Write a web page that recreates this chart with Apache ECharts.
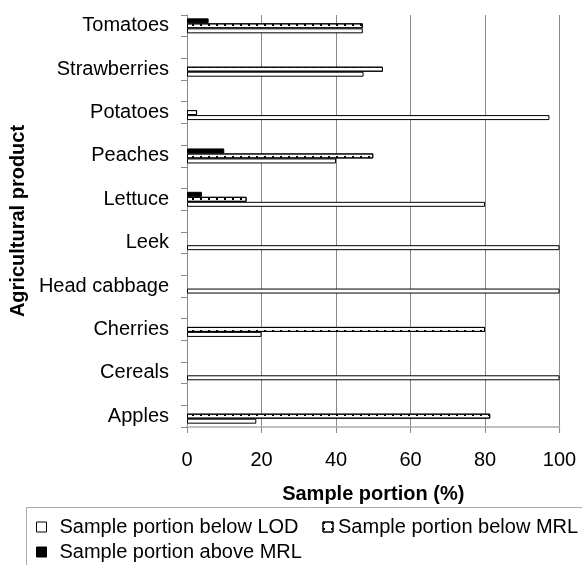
<!DOCTYPE html>
<html>
<head>
<meta charset="utf-8">
<title>Sample portion by agricultural product</title>
<script src="https://cdn.jsdelivr.net/npm/echarts@6.0.0/dist/echarts.min.js"></script>
<style>
  html, body { margin: 0; padding: 0; background: #fff; }
  #chart { width: 582px; height: 565px; }
</style>
</head>
<body>
<div id="chart"></div>
<script>
// categories from bottom to top, as on the axis
const categories = ['Apples', 'Cereals', 'Cherries', 'Head cabbage', 'Leek', 'Lettuce', 'Peaches', 'Potatoes', 'Strawberries', 'Tomatoes'];
// values in % (null = no bar)
const belowLOD = [18.6, 100, 20, 100, 100, 80, 40, 97.3, 47.4, 47.2];
const belowMRL = [81.4, null, 80, null, null, 16, 50, 2.7, 52.6, 47.2];
const aboveMRL = [null, null, null, null, null, 4, 10, null, null, 5.8];
const xTicks = [0, 20, 40, 60, 80, 100];

const seriesNames = ['Sample portion below LOD', 'Sample portion below MRL', 'Sample portion above MRL'];
const fontName = 'Liberation Sans, Arial, sans-serif';

// the original axis has an empty slot between every two products
function spread(list, blank) {
  let out = [];
  for (let i = 0; i < list.length; i++) {
    if (i > 0) out.push(blank);
    out.push(list[i]);
  }
  return out;
}

const chart = echarts.init(document.getElementById('chart'), null, { renderer: 'canvas' });

function barSeries(name, values, style) {
  return {
    name: name,
    type: 'bar',
    data: spread(values, null),
    barWidth: 5,
    barGap: '0%',
    itemStyle: style,
    emphasis: { disabled: true }
  };
}

const dots = {
  symbol: 'rect',
  symbolSize: 1,
  color: '#000',
  dashArrayX: [1.5, 6],
  dashArrayY: [1.5, 3.5]
};

// legend text, with the wider gap after the first square like the original
function legendText(pad) {
  return { fontFamily: fontName, fontSize: 20, color: '#000', padding: [0, 0, 0, pad] };
}

const option = {
  animation: false,
  backgroundColor: '#fff',
  textStyle: { fontFamily: fontName, color: '#000' },
  grid: { left: 186, right: 22.5, top: 15, bottom: 138 },
  xAxis: {
    type: 'value',
    min: xTicks[0],
    max: xTicks[xTicks.length - 1],
    interval: xTicks[1] - xTicks[0],
    name: 'Sample portion (%)',
    nameLocation: 'middle',
    nameGap: 57,
    nameTextStyle: { fontFamily: fontName, fontSize: 20, fontWeight: 'bold', color: '#000' },
    axisLine: { show: true, lineStyle: { color: '#c0c0c0', width: 2 } },
    axisTick: { show: true, length: 6, lineStyle: { color: '#888' } },
    axisLabel: { fontFamily: fontName, fontSize: 20, color: '#000', margin: 23 },
    splitLine: { show: true, lineStyle: { color: '#888', width: 1 } }
  },
  yAxis: {
    type: 'category',
    data: spread(categories, ''),
    name: 'Agricultural product',
    nameLocation: 'middle',
    nameGap: 150,
    nameRotate: 90,
    nameTextStyle: { fontFamily: fontName, fontSize: 20, fontWeight: 'bold', color: '#000' },
    axisLine: { show: true, lineStyle: { color: '#888' } },
    axisTick: { show: true, length: 6, alignWithLabel: false, lineStyle: { color: '#888' } },
    axisLabel: { interval: 0, fontFamily: fontName, fontSize: 20, color: '#000', margin: 18 },
    splitLine: { show: false }
  },
  legend: [{
    data: [
      { name: seriesNames[0], textStyle: legendText(8) },
      { name: seriesNames[1], textStyle: legendText(0) }
    ],
    orient: 'horizontal',
    left: 36,
    top: 517,
    width: 700,
    padding: 0,
    itemGap: 24,
    icon: 'rect',
    itemWidth: 10,
    itemHeight: 10,
    textStyle: legendText(0),
    itemStyle: { borderColor: '#000', borderWidth: 1 }
  }, {
    data: [{ name: seriesNames[2], textStyle: legendText(8) }],
    left: 36,
    top: 542,
    padding: 0,
    icon: 'rect',
    itemWidth: 10,
    itemHeight: 10,
    textStyle: legendText(8),
    itemStyle: { borderColor: '#000', borderWidth: 1 }
  }],
  // frame round the legend, it runs off the page like the original
  graphic: [{
    type: 'rect',
    shape: { x: 26.5, y: 507.5, width: 600, height: 100 },
    style: { fill: 'none', stroke: '#aaa', lineWidth: 1 },
    silent: true
  }],
  // on a vertical category axis the first series sits on top
  series: [
    barSeries(seriesNames[2], aboveMRL, { color: '#000', borderColor: '#000', borderWidth: 1 }),
    barSeries(seriesNames[1], belowMRL, { color: '#fff', borderColor: '#000', borderWidth: 1, decal: dots }),
    barSeries(seriesNames[0], belowLOD, { color: '#fff', borderColor: '#000', borderWidth: 1 })
  ]
};

chart.setOption(option);
</script>
</body>
</html>
